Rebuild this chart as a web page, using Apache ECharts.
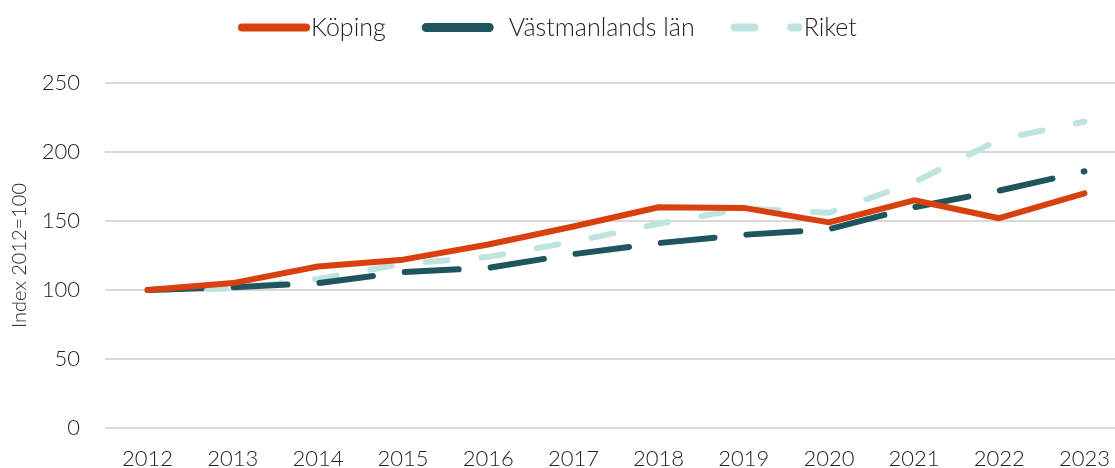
<!DOCTYPE html>
<html>
<head>
	<meta charset="utf-8">
	<title>Index 2012=100</title>
	<script src="https://cdn.jsdelivr.net/npm/echarts@6/dist/echarts.min.js"></script>
	<style>
		body { margin: 0; padding: 0; background: #fff; }
		#main { width: 1115px; height: 468px; }
	</style>
</head>
<body>
	<div id="main"></div>
	<script type="text/javascript">
		// data
		var years = ['2012', '2013', '2014', '2015', '2016', '2017', '2018', '2019', '2020', '2021', '2022', '2023'];
		var koping = [100, 105, 117, 122, 133, 146, 160, 159.5, 149, 165, 152, 170];
		var vastmanland = [100, 102, 105, 113, 116, 126, 134, 140, 144, 160, 172, 186];
		var riket = [100, 101, 108, 119, 124, 135, 148, 159, 156, 178, 209, 222];
		var yTicks = [0, 50, 100, 150, 200, 250];

		var font = 'Lato, "Open Sans", sans-serif';
		// legend icons: thick rounded dashes like the lines
		var iconSolid = 'path://M4,0H68A4,4 0 0 1 68,8H4A4,4 0 0 1 4,0Z';
		var iconLong = 'path://M4,0H61A4,4 0 0 1 61,8H4A4,4 0 0 1 4,0Z';
		var iconShort = 'path://M4,0H23A4,4 0 0 1 23,8H4A4,4 0 0 1 4,0Z M59,0H66A4,4 0 0 1 66,8H59A4,4 0 0 1 59,0Z';

		var myChart = echarts.init(document.getElementById('main'));

		myChart.setOption({
			animation: false,
			textStyle: { fontFamily: font },
			legend: {
				top: 10,
				left: 233,
				itemWidth: 72,
				itemHeight: 9,
				itemGap: 36,
				textStyle: { fontSize: 25, color: '#222', fontWeight: 300, padding: [0, 0, 0, -4] },
				data: [
					{ name: 'Köping', icon: iconSolid },
					{ name: 'Västmanlands län', icon: iconLong, textStyle: { padding: [0, 0, 0, 10] } },
					{ name: 'Riket', icon: iconShort }
				]
			},
			grid: {
				left: 105,
				right: -12,
				top: 83,
				bottom: 40,
				outerBoundsMode: 'none'
			},
			xAxis: {
				type: 'category',
				boundaryGap: true,
				data: years,
				axisTick: { show: false },
				axisLine: { show: false },
				axisLabel: { fontSize: 22, color: '#222', fontWeight: 300, margin: 20 }
			},
			yAxis: {
				type: 'value',
				min: yTicks[0],
				max: yTicks[yTicks.length - 1],
				interval: 50,
				name: 'Index 2012=100',
				nameLocation: 'middle',
				nameGap: 75,
				nameTextStyle: { fontSize: 20, color: '#222', fontWeight: 300 },
				axisLabel: { fontSize: 22, color: '#222', fontWeight: 300, margin: 25 },
				axisLine: { show: false },
				axisTick: { show: false },
				splitLine: { lineStyle: { color: '#d9d9d9', width: 2 } }
			},
			series: [
				{
					name: 'Köping', type: 'line', data: koping, symbol: 'none', z: 3,
					lineStyle: { color: '#d9400f', width: 6, cap: 'round', join: 'round' },
					itemStyle: { color: '#d9400f' }
				},
				{
					name: 'Västmanlands län', type: 'line', data: vastmanland, symbol: 'none', z: 2,
					lineStyle: { color: '#1f555e', width: 6, type: [54, 32], cap: 'round' },
					itemStyle: { color: '#1f555e' }
				},
				{
					name: 'Riket', type: 'line', data: riket, symbol: 'none', z: 1,
					lineStyle: { color: '#bfe3df', width: 6, type: [22, 34], cap: 'round' },
					itemStyle: { color: '#bfe3df' }
				}
			]
		});

		window.addEventListener('resize', function () {
			myChart.resize();
		});
	</script>
</body>
</html>
